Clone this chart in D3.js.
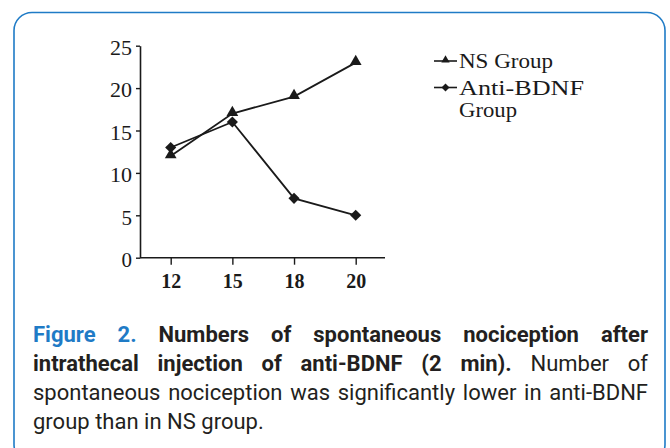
<!DOCTYPE html>
<html>
<head>
<meta charset="utf-8">
<script src="https://cdn.jsdelivr.net/npm/d3@7/dist/d3.min.js"></script>
<style>
  html, body { margin: 0; padding: 0; background: #fff; }
  svg { display: block; }
</style>
</head>
<body>
<svg id="chart" width="670" height="448"></svg>
<script>
// ---- Data ----
const categories = ["12", "15", "18", "20"];
const nsGroup = [12, 17, 19, 23];
const antiBDNF = [13, 16, 7, 5];
const yTicks = [0, 5, 10, 15, 20, 25];
const seriesNames = ["NS Group", "Anti-BDNF Group"];

const captionLines = [
  [{t: "Figure 2.", s: "fig"}, {t: "Numbers of spontaneous nociception after", s: "b"}],
  [{t: "intrathecal injection of anti-BDNF (2 min).", s: "b"}, {t: "Number of", s: "r"}],
  [{t: "spontaneous nociception was significantly lower in anti-BDNF", s: "r"}],
  [{t: "group than in NS group.", s: "r"}]
];

const svg = d3.select("#chart");
const blue = "#1f7bc6";
const ink = "#1a1a1a";

// Frame
svg.append("rect")
  .attr("x", 14).attr("y", 12.5)
  .attr("width", 651).attr("height", 450)
  .attr("rx", 18).attr("ry", 18)
  .attr("fill", "#fff").attr("stroke", blue).attr("stroke-width", 1.6);

// Scales
const x = d3.scalePoint().domain(categories).range([170.7, 355.7]);
const y = d3.scaleLinear().domain([0, 25]).range([257.7, 45.7]);

const serif = "'Liberation Serif', 'Times New Roman', serif";

// Y axis
const yAxis = svg.append("g").attr("transform", "translate(140,0)")
  .call(d3.axisLeft(y).tickValues(yTicks).tickSize(4).tickPadding(4).tickSizeOuter(0));
yAxis.select(".domain").attr("stroke", ink).attr("stroke-width", 1.6);
yAxis.selectAll(".tick line").attr("stroke", ink).attr("stroke-width", 1.4);
yAxis.selectAll(".tick text").attr("font-family", serif).attr("font-size", 21)
  .attr("fill", ink).attr("dy", "0.42em").attr("textLength", 22).attr("lengthAdjust", "spacingAndGlyphs");
yAxis.selectAll(".tick text").filter(d => d < 10).attr("textLength", null);

// X axis
const xAxis = svg.append("g").attr("transform", "translate(0,257.7)")
  .call(d3.axisBottom(x).tickSize(7).tickPadding(9).tickSizeOuter(0));
xAxis.select(".domain").attr("d", "M140,0H385").attr("stroke", ink).attr("stroke-width", 1.6);
xAxis.selectAll(".tick line").attr("stroke", ink).attr("stroke-width", 1.4);
xAxis.selectAll(".tick text").attr("font-family", serif).attr("font-size", 20)
  .attr("font-weight", 700).attr("fill", ink);

// Lines
const line = d3.line().x((d, i) => x(categories[i])).y(d => y(d));
svg.append("path").datum(nsGroup).attr("d", line)
  .attr("fill", "none").attr("stroke", ink).attr("stroke-width", 1.8);
svg.append("path").datum(antiBDNF).attr("d", line)
  .attr("fill", "none").attr("stroke", ink).attr("stroke-width", 1.8);

const tri = d3.symbol().type(d3.symbolTriangle).size(60);
const sq = d3.symbol().type(d3.symbolSquare).size(62);

svg.append("g").selectAll("path").data(nsGroup).join("path")
  .attr("d", tri)
  .attr("transform", (d, i) => `translate(${x(categories[i])},${y(d) - 1})`)
  .attr("fill", ink);
svg.append("g").selectAll("path").data(antiBDNF).join("path")
  .attr("d", sq)
  .attr("transform", (d, i) => `translate(${x(categories[i])},${y(d)}) rotate(45)`)
  .attr("fill", ink);

// Legend
const lg = svg.append("g");
const legY = [61, 87.5];
lg.append("line").attr("x1", 434).attr("x2", 457).attr("y1", legY[0]).attr("y2", legY[0])
  .attr("stroke", ink).attr("stroke-width", 1.6);
lg.append("path").attr("d", d3.symbol().type(d3.symbolTriangle).size(30))
  .attr("transform", `translate(445.5,${legY[0] - 1})`).attr("fill", ink);
lg.append("line").attr("x1", 434).attr("x2", 457).attr("y1", legY[1]).attr("y2", legY[1])
  .attr("stroke", ink).attr("stroke-width", 1.6);
lg.append("path").attr("d", d3.symbol().type(d3.symbolSquare).size(32))
  .attr("transform", `translate(445.5,${legY[1]}) rotate(45)`).attr("fill", ink);

lg.append("text").attr("x", 459).attr("y", legY[0] + 7)
  .attr("font-family", serif).attr("font-size", 20).attr("fill", ink)
  .attr("textLength", 94).attr("lengthAdjust", "spacingAndGlyphs")
  .text(seriesNames[0]);
const nameParts = seriesNames[1].split(" ");
lg.append("text").attr("x", 459).attr("y", legY[1] + 7)
  .attr("font-family", serif).attr("font-size", 20).attr("fill", ink)
  .attr("textLength", 125).attr("lengthAdjust", "spacingAndGlyphs")
  .text(nameParts[0]);
lg.append("text").attr("x", 459).attr("y", legY[1] + 29)
  .attr("font-family", serif).attr("font-size", 20).attr("fill", ink)
  .attr("textLength", 58).attr("lengthAdjust", "spacingAndGlyphs")
  .text(nameParts[1]);

// Caption (justified)
const capFont = "Roboto, 'Noto Sans', sans-serif";
const capLeft = 33, capRight = 648;
const baselines = [342, 371, 400, 429];
const cap = svg.append("g");

// fit font size so that the plain third line fills the width naturally
const probe = cap.append("text").attr("font-family", capFont).attr("font-size", 20)
  .text(captionLines[2][0].t);
const probeW = probe.node().getComputedTextLength();
probe.remove();
const capSize = Math.min(22, 20 * (capRight - capLeft) / probeW);

captionLines.forEach((segs, li) => {
  const words = [];
  segs.forEach(seg => seg.t.split(" ").forEach(w => words.push({w, s: seg.s})));
  const nodes = words.map(o => cap.append("text")
    .attr("y", baselines[li])
    .attr("font-family", capFont)
    .attr("font-size", capSize)
    .attr("font-weight", o.s === "r" ? 400 : 700)
    .attr("fill", o.s === "fig" ? blue : "#231f20")
    .text(o.w));
  const widths = nodes.map(n => n.node().getComputedTextLength());
  const total = d3.sum(widths);
  const justify = li < 3;
  const gap = justify && nodes.length > 1 ? (capRight - capLeft - total) / (nodes.length - 1) : capSize * 0.25;
  let cx = capLeft;
  nodes.forEach((n, i) => { n.attr("x", cx); cx += widths[i] + gap; });
});
</script>
</body>
</html>
